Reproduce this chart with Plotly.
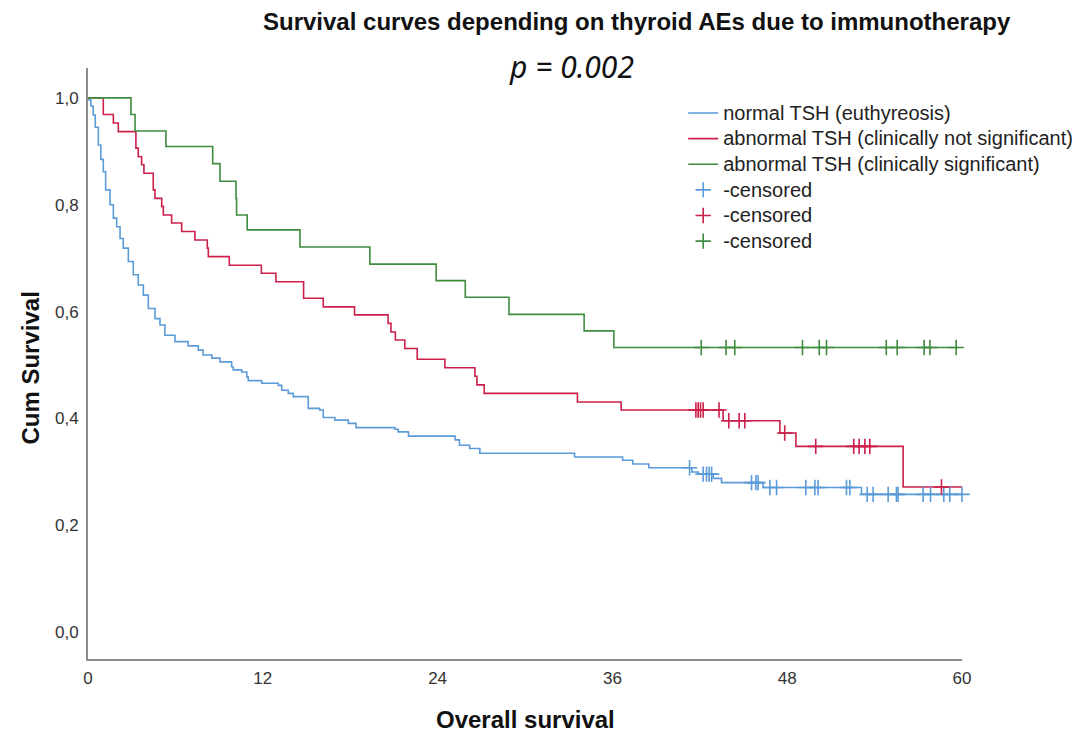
import numpy as np
import plotly.graph_objects as go

# ---------------- data ----------------
group_names = ["normal TSH (euthyreosis)",
               "abnormal TSH (clinically not significant)",
               "abnormal TSH (clinically significant)"]
censor_name = "-censored"

blue_time = [0.07, 0.2, 0.36, 0.5, 0.71, 0.88, 1.05, 1.21, 1.51, 1.74, 1.97, 2.2, 2.42,
             2.77, 3.11, 3.45, 3.8, 4.14, 4.6, 4.94, 5.28, 5.97, 6.88, 7.57, 7.9, 8.5,
             9.06, 9.86, 9.97, 10.55, 10.9, 11.0, 11.92, 13.06, 13.3, 13.75, 14.09, 15.12,
             15.9, 16.15, 16.95, 17.87, 18.4, 21.07, 21.3, 22.0, 25.2, 25.5, 26.2, 26.9,
             33.4, 36.7, 37.4, 38.5, 41.45, 41.89, 42.92, 43.49, 46.35, 53.1]
blue_surv = [0.996, 0.985, 0.968, 0.945, 0.912, 0.885, 0.862, 0.828, 0.800, 0.775, 0.759,
             0.737, 0.719, 0.694, 0.669, 0.650, 0.631, 0.606, 0.587, 0.575, 0.556, 0.544,
             0.536, 0.528, 0.519, 0.513, 0.506, 0.497, 0.491, 0.487, 0.478, 0.471, 0.466,
             0.462, 0.453, 0.447, 0.441, 0.419, 0.416, 0.402, 0.397, 0.391, 0.383, 0.380,
             0.375, 0.367, 0.360, 0.350, 0.344, 0.335, 0.328, 0.322, 0.315, 0.308, 0.300,
             0.296, 0.288, 0.280, 0.271, 0.258]
blue_censor = [41.3, 42.23, 42.46, 42.64, 42.81, 45.55, 45.85, 46.0, 46.81, 47.27, 49.28,
               49.9, 50.12, 52.07, 52.3, 53.49, 53.9, 54.93, 55.5, 55.61, 57.33, 57.84,
               58.75, 59.16, 60.0]
blue_end = 60.0

red_time = [1.05, 1.74, 2.08, 3.29, 3.45, 3.68, 3.84, 4.48, 4.6, 5.06, 5.17, 5.74, 6.43,
            7.34, 8.19, 8.26, 9.7, 11.9, 12.9, 14.8, 16.15, 18.3, 20.6, 20.8, 21.1, 21.75,
            22.6, 24.5, 26.56, 26.7, 27.2, 33.6, 36.6, 43.6, 47.5, 48.6, 55.96]
red_surv = [0.969, 0.953, 0.937, 0.906, 0.890, 0.875, 0.859, 0.828, 0.812, 0.797, 0.781,
            0.766, 0.750, 0.734, 0.719, 0.703, 0.687, 0.672, 0.656, 0.625, 0.609, 0.594,
            0.578, 0.562, 0.547, 0.531, 0.511, 0.495, 0.479, 0.463, 0.447, 0.431, 0.416,
            0.396, 0.373, 0.348, 0.272]
red_censor = [41.73, 41.89, 42.05, 42.23, 43.32, 43.99, 44.7, 45.09, 47.83, 49.96, 52.57,
              52.94, 53.33, 53.67, 58.59]
red_end = 60.0

green_time = [2.95, 3.23, 5.35, 8.56, 9.06, 10.16, 10.2, 10.93, 14.55, 19.35, 23.9, 25.9,
              28.9, 34.06, 36.1]
green_surv = [0.969, 0.938, 0.909, 0.877, 0.844, 0.812, 0.781, 0.753, 0.721, 0.689, 0.658,
              0.627, 0.595, 0.564, 0.533]
green_censor = [42.1, 43.8, 44.4, 49.05, 50.2, 50.7, 54.8, 55.55, 57.4, 57.8, 59.6]
green_end = 59.7

x_ticks = [0, 12, 24, 36, 48, 60]
y_ticks = [0.0, 0.2, 0.4, 0.6, 0.8, 1.0]
y_tick_text = ["0,0", "0,2", "0,4", "0,6", "0,8", "1,0"]

colors = ["#5b9bd8", "#cc1f4a", "#3f8c3f"]

# ---------------- figure ----------------
fig = go.Figure()

groups = [(blue_time, blue_surv, blue_end), (red_time, red_surv, red_end),
          (green_time, green_surv, green_end)]
censors = [blue_censor, red_censor, green_censor]


def surv_at(times, survs, t):
    idx = np.searchsorted(np.array(times), t, side="right")
    return 1.0 if idx == 0 else survs[idx - 1]


def legend_label(txt):
    return '<span style="font-size:20px">' + txt + "</span>"


for (t, s, end), name, col in zip(groups, group_names, colors):
    xs = [0.0] + list(t) + [end]
    ys = [1.0] + list(s) + [s[-1]]
    fig.add_trace(go.Scatter(x=xs, y=ys, mode="lines", line_shape="hv",
                             line=dict(color=col, width=1.6), name=legend_label(name)))

for (t, s, end), cens, col in zip(groups, censors, colors):
    cy = [surv_at(t, s, c) for c in cens]
    fig.add_trace(go.Scatter(x=cens, y=cy, mode="markers", name=legend_label(censor_name),
                             cliponaxis=False,
                             marker=dict(symbol="cross-thin-open", size=11, color=col,
                                         line=dict(color=col, width=1.6))))

axis_font = dict(family="Liberation Sans, Arial, sans-serif", size=17, color="#333333")
label_font = dict(family="Liberation Sans, Arial, sans-serif", size=24, color="#111111")

fig.update_layout(
    width=1072, height=730,
    margin=dict(l=80, r=118, t=60, b=79, autoexpand=False),
    paper_bgcolor="white", plot_bgcolor="white",
    showlegend=True,
    legend=dict(x=0.681, y=0.954, xanchor="left", yanchor="top",
                font=dict(family="Liberation Sans, Arial, sans-serif", size=17.4, color="#222222"),
                bgcolor="rgba(0,0,0,0)", tracegroupgap=0, itemwidth=30),
    xaxis=dict(range=[0, 60], tickvals=x_ticks, showgrid=False, zeroline=False,
               showline=True, linecolor="#8c8c8c", linewidth=2, ticks="",
               tickfont=axis_font, ticklabelstandoff=3, fixedrange=True),
    yaxis=dict(range=[-0.05, 1.056], tickvals=y_ticks, ticktext=y_tick_text,
               showgrid=False, zeroline=False, showline=True, linecolor="#8c8c8c",
               linewidth=2, ticks="", tickfont=axis_font, ticklabelstandoff=4,
               fixedrange=True),
    annotations=[
        dict(text="<b>Survival curves depending on thyroid AEs due to immunotherapy</b>",
             xref="paper", yref="paper", x=0.628, y=1.078, xanchor="center",
             yanchor="middle", showarrow=False, font=label_font),
        dict(text="<i>p = 0.002</i>", xref="paper", yref="paper", x=0.553, y=1.002,
             xanchor="center", yanchor="middle", showarrow=False,
             font=dict(family="Noto Sans, sans-serif", size=30, color="#111111")),
        dict(text="<b>Cum Survival</b>", xref="paper", yref="paper", x=-0.066, y=0.492,
             xanchor="center", yanchor="middle", textangle=-90, showarrow=False,
             font=label_font),
        dict(text="<b>Overall survival</b>", xref="paper", yref="paper", x=0.5, y=-0.103,
             xanchor="center", yanchor="middle", showarrow=False, font=label_font),
    ],
)

fig.write_html("out.html")
